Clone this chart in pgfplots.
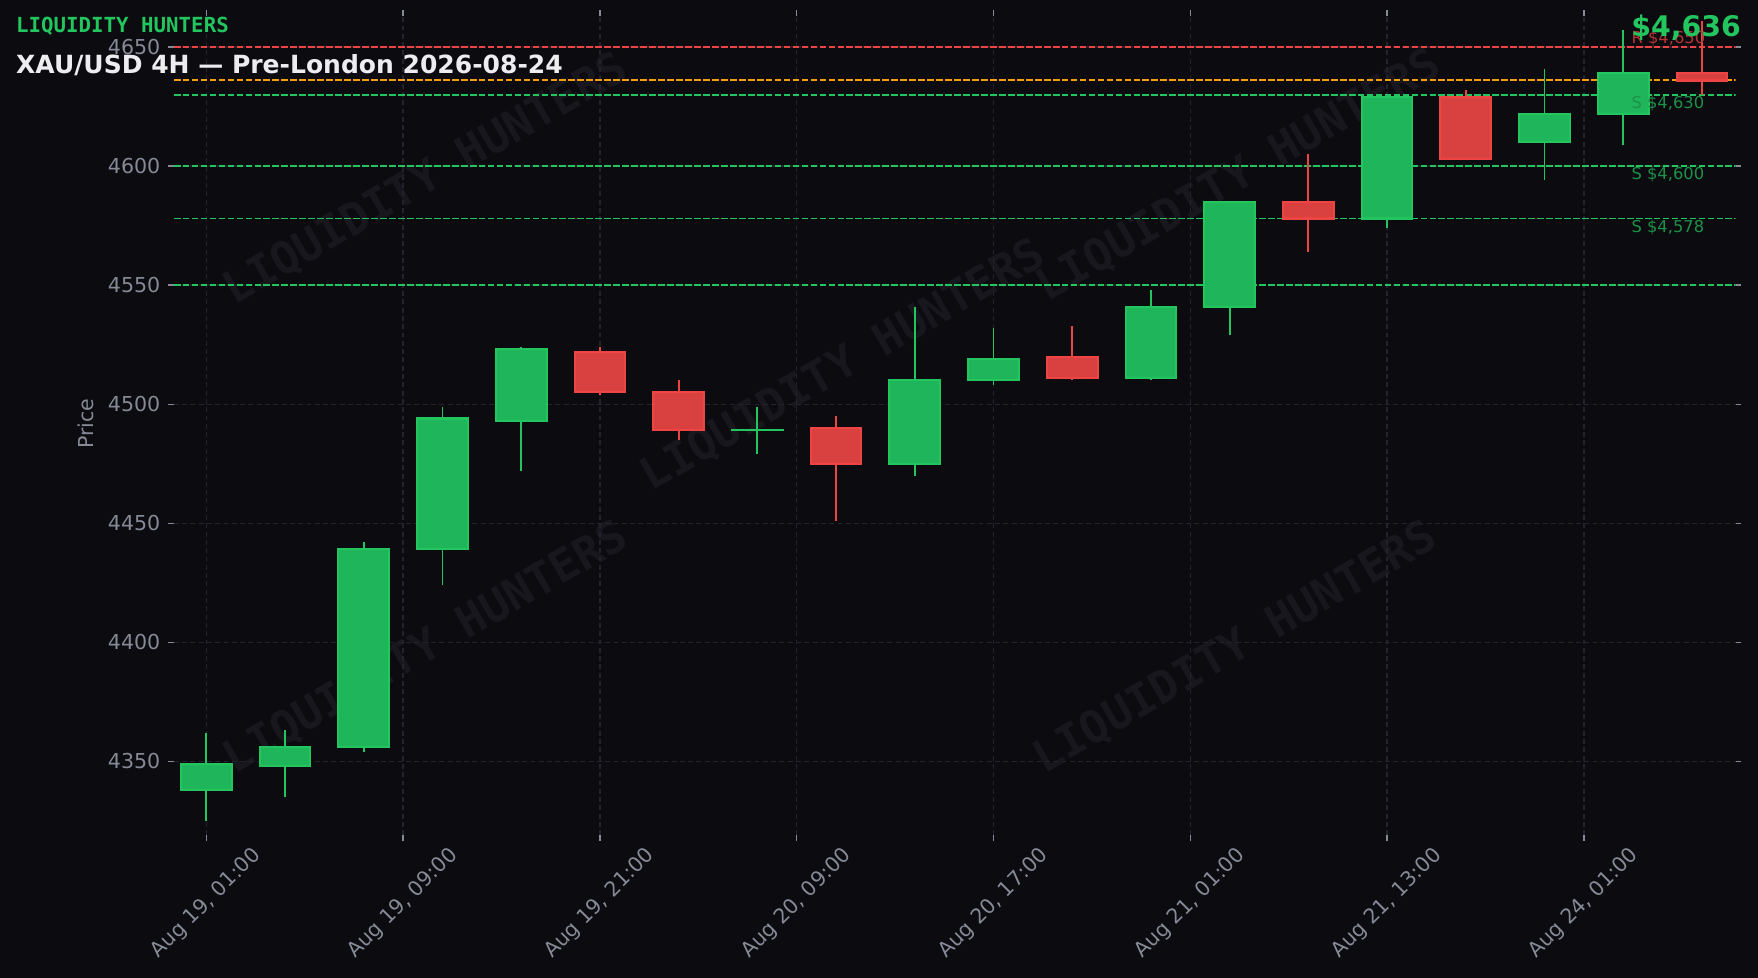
\documentclass[border=0pt]{standalone}
\usepackage{pgfplots}
\pgfplotsset{compat=1.18}
\usepackage{pgfplotstable}
\usepackage{fontspec}
\setmainfont{DejaVu Sans}
\newfontfamily\monofont{DejaVu Sans Mono}

\definecolor{bg}{HTML}{0B0B10}
\definecolor{bull}{HTML}{22C55E}
\definecolor{bullfill}{HTML}{1FB55A}
\definecolor{bear}{HTML}{EF4444}
\definecolor{bearfill}{HTML}{D94141}
\definecolor{amber}{HTML}{F59E0B}
\definecolor{gridc}{HTML}{23232C}
\definecolor{tickc}{HTML}{858A96}
\definecolor{wm}{HTML}{17171D}
\definecolor{titlec}{HTML}{EDEDF0}

% 4H candles, index 0..19
\pgfplotstableread{
i  o    h    l    c
0  4338 4362 4325 4349
1  4348 4363 4335 4356
2  4356 4442 4354 4439
3  4439 4499 4424 4494
4  4493 4524 4472 4523
7  4489 4499 4479 4489
9  4475 4541 4470 4510
10 4510 4532 4508 4519
12 4511 4548 4510 4541
13 4541 4585 4529 4585
15 4578 4629 4574 4629
17 4610 4641 4594 4622
18 4622 4657 4609 4639
}\bulltab

\pgfplotstableread{
i  o    h    l    c
5  4522 4524 4504 4505
6  4505 4510 4485 4489
8  4490 4495 4451 4475
11 4520 4533 4510 4511
14 4585 4605 4564 4578
16 4629 4632 4603 4603
19 4639 4661 4630 4636
}\beartab

\pgfplotsset{
  wick/.style={draw=none, mark=none, forget plot,
    error bars/.cd, y dir=both, y explicit, error mark=none,
    error bar style={draw=#1, line width=0.85bp}},
  body/.style 2 args={draw=none, mark=none, forget plot,
    error bars/.cd, y dir=both, y explicit, error mark=none,
    error bar style={draw=#1, line width=#2}},
  level/.style={#1, line width=0.8bp, dash pattern=on 3bp off 1bp, forget plot},
}

\begin{document}
\begin{tikzpicture}
\fill[bg] (0,0) rectangle (784bp,436bp);

% watermark
\foreach \wx/\wy in {190/356, 552.5/357.5, 376/273, 190/147, 551/147}
  \node[wm, rotate=30, font=\monofont\bfseries\fontsize{20}{24}\selectfont]
    at (\wx bp,\wy bp) {LIQUIDITY HUNTERS};

\begin{axis}[
  at={(77.5bp,63.5bp)}, anchor=south west,
  width=696.5bp, height=365.5bp, scale only axis,
  xmin=-0.413, xmax=19.427,
  ymin=4318.9, ymax=4663.2,
  axis line style={draw=none},
  tick align=outside,
  major tick length=2.5bp,
  tick style={tickc, line width=0.6bp},
  grid=major,
  major grid style={gridc, line width=0.6bp, dash pattern=on 2.2bp off 1.5bp},
  xtick={0,2.5,5,7.5,10,12.5,15,17.5},
  xticklabels={{Aug 19, 01:00},{Aug 19, 09:00},{Aug 19, 21:00},{Aug 20, 09:00},
    {Aug 20, 17:00},{Aug 21, 01:00},{Aug 21, 13:00},{Aug 24, 01:00}},
  ytick={4350,4400,...,4650},
  /pgf/number format/1000 sep={},
  /pgf/number format/assume math mode=true,
  ticklabel style={tickc, font=\fontsize{9.2}{11}\selectfont},
  xticklabel style={yshift=-28bp, rotate=45, anchor=center},
  yticklabel style={anchor=east},
]
% support / resistance levels
\addplot[level=bear]  coordinates {(-0.413,4650) (19.427,4650)};
\addplot[level=amber] coordinates {(-0.413,4636.3) (19.427,4636.3)};
\addplot[level=bull]  coordinates {(-0.413,4630) (19.427,4630)};
\addplot[level=bull]  coordinates {(-0.413,4600) (19.427,4600)};
\addplot[level=bull]  coordinates {(-0.413,4578) (19.427,4578)};
\addplot[level=bull]  coordinates {(-0.413,4550) (19.427,4550)};

% wicks
\addplot[wick=bull] table[x=i, y=c, y error plus expr=\thisrow{h}-\thisrow{c},
  y error minus expr=\thisrow{c}-\thisrow{l}] {\bulltab};
\addplot[wick=bear] table[x=i, y=c, y error plus expr=\thisrow{h}-\thisrow{c},
  y error minus expr=\thisrow{c}-\thisrow{l}] {\beartab};

% bodies: edge, then fill
\addplot[body={bull}{23.5bp}] table[x=i, y expr=(\thisrow{o}+\thisrow{c})/2,
  y error expr=abs(\thisrow{c}-\thisrow{o})/2+0.45] {\bulltab};
\addplot[body={bullfill}{21.7bp}] table[x=i, y expr=(\thisrow{o}+\thisrow{c})/2,
  y error expr={max(abs(\thisrow{c}-\thisrow{o})/2-0.45,0)}] {\bulltab};
\addplot[body={bear}{23.5bp}] table[x=i, y expr=(\thisrow{o}+\thisrow{c})/2,
  y error expr=abs(\thisrow{c}-\thisrow{o})/2+0.45] {\beartab};
\addplot[body={bearfill}{21.7bp}] table[x=i, y expr=(\thisrow{o}+\thisrow{c})/2,
  y error expr={max(abs(\thisrow{c}-\thisrow{o})/2-0.45,0)}] {\beartab};

% level labels
\begin{scope}[every node/.style={anchor=west, inner sep=0pt, font=\fontsize{7.3}{9}\selectfont}]
\node[text=bear!75!bg] at (axis cs:18.1,4653.8) {R \$4,650};
\node[text=bull!72!bg] at (axis cs:18.1,4626.4) {S \$4,630};
\node[text=bull!72!bg] at (axis cs:18.1,4596.4) {S \$4,600};
\node[text=bull!72!bg] at (axis cs:18.1,4574.4) {S \$4,578};
\end{scope}
\end{axis}

\node[tickc, rotate=90, inner sep=0pt, font=\fontsize{9.2}{11}\selectfont]
  at (38.5bp,247bp) {Price};

% headers
\node[anchor=west, inner sep=0pt, text=bull, font=\monofont\bfseries\fontsize{9.3}{11}\selectfont]
  at (7bp,424.5bp) {LIQUIDITY HUNTERS};
\node[anchor=west, inner sep=0pt, text=titlec, font=\bfseries\fontsize{11.2}{14}\selectfont]
  at (7bp,407bp) {XAU/USD 4H — Pre-London 2026-08-24};
\node[anchor=east, inner sep=0pt, text=bull, font=\bfseries\fontsize{12.7}{15}\selectfont]
  at (776.5bp,423.5bp) {\$4,636};

\pgfresetboundingbox
\path (0,0) rectangle (784bp,436bp);
\end{tikzpicture}
\end{document}
